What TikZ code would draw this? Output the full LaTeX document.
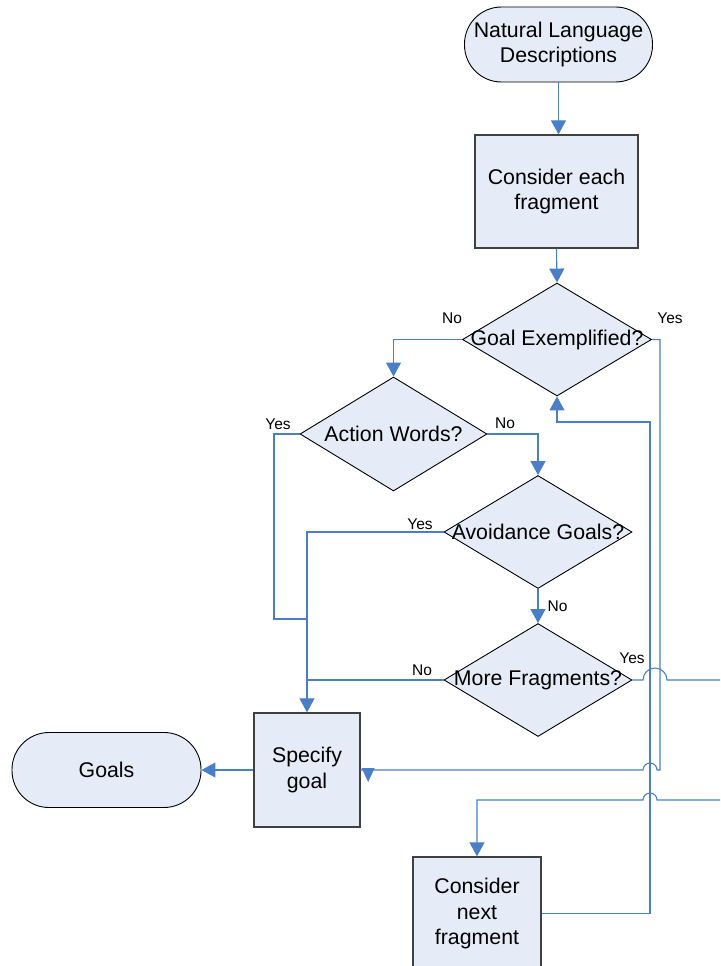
\documentclass[tikz,border=0pt]{standalone}
\usepackage{fontspec}
\setmainfont{Liberation Sans}
\usetikzlibrary{arrows.meta,shapes.geometric,calc}
\definecolor{flowblue}{RGB}{74,126,199}
\definecolor{shapefill}{RGB}{230,236,247}
\begin{document}
\begin{tikzpicture}[x=1pt,y=-1pt,
  every node/.style={font=\fontsize{21.3}{25.5}\selectfont},
  term/.style={draw=black, line width=0.9pt, fill=shapefill, rounded corners=37pt,
    minimum width=188pt, minimum height=75pt, inner sep=0pt, align=center},
  proc/.style={draw=black!75, line width=1.3pt, fill=shapefill, inner sep=0pt, align=center},
  decide/.style={diamond, draw=black, line width=0.9pt, fill=shapefill, inner sep=0pt,
    minimum width=188pt, minimum height=113pt},
  flow/.style={draw=flowblue, line width=1.1pt},
  arr/.style={flow, -{Triangle[length=14pt,width=15pt]}},
  tag/.style={font=\fontsize{15.5}{18}\selectfont, inner sep=0pt}
]
\useasboundingbox (0,0) rectangle (720,966);
\clip (0,0) rectangle (720,966);

% shapes
\node[term] (start) at (558.5,44.5) {Natural Language\\Descriptions};
\node[proc, minimum width=163pt, minimum height=113pt] (consider) at (556.5,191.5) {Consider each\\fragment};
\node[decide, minimum width=189pt, label=center:{Goal Exemplified?}] (goalex) at (557,339.5) {};
\node[decide, minimum width=187pt, minimum height=114pt, label=center:{Action Words?}] (action) at (393.5,434) {};
\node[decide, label=center:{Avoidance Goals?}] (avoid) at (538,532) {};
\node[decide, label=center:{More Fragments?}] (more) at (538,680) {};
\node[proc, minimum width=106pt, minimum height=114pt] (specify) at (307,770) {Specify\\goal};
\node[term, minimum width=189pt] (goals) at (106.5,770) {Goals};
\node[proc, minimum width=128pt, minimum height=113pt] (next) at (477,913.5) {Consider\\next\\fragment};

% connectors
\draw[arr] (start.south) -- (start.south |- consider.north);
\draw[arr] (consider.south) -- (goalex.north);
\draw[arr] (goalex.west) -- (action.north |- goalex.west) -- (action.north);
\draw[flow] (goalex.east) -- (660,339.5) -- (660,770) -- (657,770)
  arc[start angle=0, end angle=180, radius=7pt] -- (specify.east);
\fill[flowblue] ($(specify.east)+(1,-2)$) -- ($(specify.east)+(14,-2)$)
  -- ($(specify.east)+(7.5,12)$) -- cycle;
\draw[arr] (action.east) -- (action.east -| avoid.north) -- (avoid.north);
\draw[flow] (action.west) -- (274,434) -- (274,619) -- (307,619);
\draw[arr] (avoid.west) -- (avoid.west -| specify.north) -- (specify.north);
\draw[arr] (avoid.south) -- (more.north);
\draw[flow] (more.west) -- (more.west -| specify.north);
\draw[arr] (more.east) -- (643,680) arc[start angle=180, end angle=0, radius=12pt]
  -- (730,680) -- (730,800) -- (657,800) arc[start angle=0, end angle=180, radius=7pt]
  -- (477,800) -- (next.north);
\draw[arr] (next.east) -- (650,913.5) -- (650,422) -- (557,422) -- (goalex.south);
\draw[arr] (specify.west) -- (goals.east);

% branch labels
\node[tag] (n1) at (452,318.5) {No};
\node[tag] (y1) at (670,318) {Yes};
\node[tag] (y2) at (278,424) {Yes};
\node[tag] (n2) at (505,423) {No};
\node[tag] (y3) at (420,524) {Yes};
\node[tag] (n3) at (557.5,606) {No};
\node[tag] (n4) at (422,670) {No};
\node[tag] (y4) at (632,658) {Yes};
\end{tikzpicture}
\end{document}
